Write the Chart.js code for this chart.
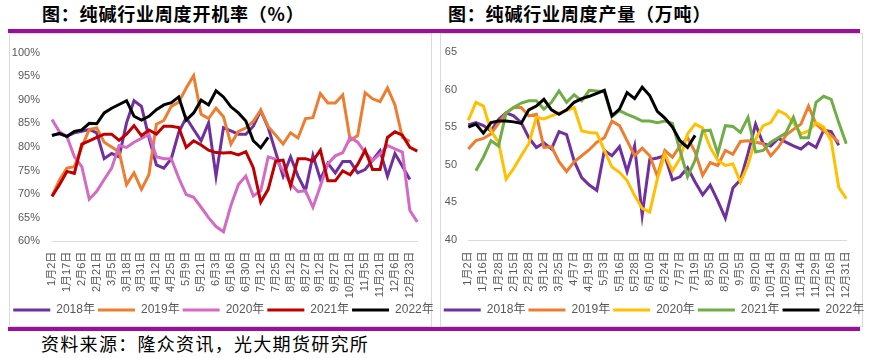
<!DOCTYPE html>
<html><head><meta charset="utf-8">
<script src="https://cdn.jsdelivr.net/npm/chart.js@4"></script>
<style>
html,body{margin:0;padding:0;background:#fff;}
body{width:870px;height:358px;position:relative;overflow:hidden;font-family:"Noto Sans CJK SC",sans-serif;}
.title{position:absolute;top:1px;font-size:18px;font-weight:700;color:#000;letter-spacing:0.8px;white-space:nowrap;line-height:24px;}
.bar{position:absolute;left:8px;width:852px;height:4px;background:#9b0f9b;}
.box{position:absolute;top:33px;height:294px;border:1px solid #d9d9d9;box-sizing:border-box;}
.src{position:absolute;left:41px;top:331px;font-size:18px;letter-spacing:1.3px;white-space:nowrap;line-height:24px;color:#000;}
.cv{position:absolute;top:34px;}
</style></head>
<body>
<div class="title" style="left:42px">图：纯碱行业周度开机率（%）</div>
<div class="title" style="left:448px">图：纯碱行业周度产量（万吨）</div>
<div class="bar" style="top:29px"></div>
<div class="box" style="left:9px;width:423px"></div>
<div class="box" style="left:440px;width:423px"></div>
<div class="bar" style="top:327px"></div>
<div class="src">资料来源：隆众资讯，光大期货研究所</div>
<div class="cv" style="left:6px"><canvas id="c1" width="435" height="292"></canvas></div>
<div class="cv" style="left:437px"><canvas id="c2" width="434" height="292"></canvas></div>
<script>
// ---- left chart: weekly operating rate (%) ----
const rateTickLabels = ['1月2日','1月17日','2月6日','2月21日','3月5日','3月18日','3月31日','4月12日','4月25日','5月9日','5月21日','6月3日','6月16日','6月30日','7月12日','7月25日','8月12日','8月27日','9月12日','9月27日','10月21日','11月5日','11月21日','12月6日','12月23日'];
const rateWeeks = 50;
const rate2018 = [82.5,82.8,82.3,83.0,83.3,83.7,83.0,77.5,78.6,77.9,85.1,89.8,88.6,82.0,76.2,75.5,77.5,83.1,86.2,83.7,81.3,85.1,73.8,84.1,83.4,82.7,82.7,84.4,87.7,84.1,78.9,73.8,77.9,73.8,70.7,78.2,73.1,76.5,74.5,76.9,76.9,74.5,75.2,77.2,79.2,73.8,78.6,75.9,73.1];
const rate2019 = [69.5,73.0,75.5,75.8,80.0,83.7,84.0,81.0,80.0,79.0,72.0,74.5,71.0,74.1,84.8,85.6,88.6,89.5,92.5,95.1,86.9,86.0,88.2,86.4,80.6,83.3,84.0,85.4,87.8,84.3,82.5,80.6,83.0,81.9,86.0,86.2,91.3,89.3,89.3,91.0,81.4,82.4,91.5,90.2,89.6,92.5,88.9,82.0,81.2];
const rate2020 = [85.8,83.2,82.2,77.9,75.8,68.9,70.6,73.1,75.5,80.3,79.9,81.0,81.8,82.7,77.9,77.5,77.5,73.4,69.9,69.3,67.2,65.0,63.1,62.0,67.6,72.0,73.8,69.6,70.7,77.9,77.4,75.0,72.2,70.5,70.7,67.2,71.7,76.4,78.1,78.8,82.0,81.0,78.8,77.1,78.5,80.3,79.6,78.9,66.5,64.1];
const rate2021 = [69.5,72.0,74.8,74.4,80.6,81.3,82.0,82.7,82.7,81.4,82.7,84.5,82.4,83.6,82.7,84.4,84.4,84.1,79.9,81.3,80.4,79.3,78.8,78.7,78.8,78.3,79.0,75.6,68.3,71.0,77.0,77.2,71.7,77.5,77.5,77.0,79.3,72.8,72.8,74.9,74.1,76.3,79.3,75.2,75.2,82.0,83.2,82.5,79.9,79.1];
const rate2022 = [82.4,82.9,82.2,83.3,83.6,85.0,84.9,87.2,88.2,89.0,89.8,86.5,85.7,86.5,87.9,88.9,89.4,90.6,85.7,87.2,89.9,88.9,91.9,90.6,88.5,87.2,85.5,81.3,79.8,82.0];

// ---- right chart: weekly output (10k t) ----
const outTickLabels = ['1月2日','1月16日','1月28日','2月15日','2月28日','3月12日','3月25日','4月7日','4月19日','5月3日','5月16日','5月28日','6月10日','6月24日','7月7日','7月19日','8月5日','8月20日','9月5日','9月20日','10月14日','10月29日','11月14日','11月29日','12月16日','12月31日'];
const outWeeks = 51;
const out2018 = [55.3,55.6,55.2,54.5,56.0,56.9,56.5,55.6,53.6,52.3,52.9,52.1,54.4,54.0,50.5,48.3,47.3,46.6,51.9,51.2,52.4,49.1,52.5,43.3,50.7,50.9,51.2,48.0,48.4,49.6,47.7,46.0,47.3,45.2,42.9,46.9,48.0,51.5,55.4,52.8,52.5,53.5,53.0,52.5,52.1,52.9,52.3,54.6,54.4,52.6];
const out2019 = [52.1,53.2,53.5,54.1,55.5,56.9,57.6,57.6,56.5,56.7,52.3,52.4,50.4,49.1,50.4,51.2,52.0,53.0,53.6,55.8,55.2,53.2,51.2,52.2,51.2,48.5,51.9,51.0,52.5,53.6,51.7,48.6,50.3,49.9,51.9,51.4,53.1,53.2,53.0,52.8,51.2,52.3,53.9,54.7,55.4,57.8,55.4,54.5,53.9,53.0];
const out2020 = [55.9,58.3,57.8,54.5,53.0,48.1,49.5,51.2,52.8,56.3,56.1,56.5,56.9,57.2,57.6,54.5,54.3,54.2,51.9,49.7,49.0,47.9,45.9,44.2,43.7,48.1,51.4,49.2,50.8,54.1,55.4,54.9,52.3,50.6,49.9,50.1,47.7,50.0,53.4,55.2,55.6,57.2,56.7,55.6,54.1,54.5,55.6,55.0,53.2,47.0,45.5];
const out2021 = [null,49.2,51.0,53.2,52.5,56.9,57.6,58.2,58.5,58.5,57.4,58.3,59.8,58.3,59.3,58.5,59.9,59.8,59.7,56.4,57.2,56.7,56.3,55.8,55.8,55.6,55.8,55.5,51.9,48.4,50.6,54.5,54.6,51.5,55.2,55.1,54.3,56.3,51.7,51.9,53.0,53.6,54.2,56.3,53.6,53.6,58.3,59.1,58.7,55.6,52.8];
const out2022 = [55.0,55.4,54.2,55.6,55.8,55.8,55.7,55.5,57.3,57.8,58.7,57.3,56.7,57.3,58.3,58.8,59.1,59.5,59.9,56.5,57.4,59.6,58.8,60.3,59.2,57.1,56.2,55.0,53.2,52.3,53.9];

const yearNames = ['2018年','2019年','2020年','2021年','2022年'];

// category axis: one category per week, a date label on every other week
function weekCategories(n, tickLabels) {
  const cats = [];
  for (let i = 0; i < n; i++) cats.push(i % 2 === 0 ? (tickLabels[i / 2] || '') : '');
  return cats;
}

Chart.defaults.font.family = '"Liberation Sans", "Noto Sans CJK SC", sans-serif';
Chart.defaults.color = '#595959';

function makeChart(id, cats, series, colors, yOpt, geo) {
  const datasets = series.map((d, i) => ({
    label: yearNames[i], data: d, borderColor: colors[i], backgroundColor: colors[i],
    borderWidth: 3, pointRadius: 0, tension: 0, fill: false, order: 5 - i
  }));
  return new Chart(document.getElementById(id), {
    type: 'line',
    data: { labels: cats, datasets },
    options: {
      responsive: false, animation: false, events: [],
      layout: { padding: { top: geo.top, left: 0, right: 0, bottom: 0 } },
      scales: {
        x: {
          type: 'category', offset: false,
          grid: { display: false, drawTicks: false },
          border: { display: true, color: '#d9d9d9', width: 1 },
          ticks: { autoSkip: false, maxRotation: 90, minRotation: 90, padding: geo.xPad, color: '#595959', font: { size: 11 } },
          afterFit: s => { s.height = geo.xH; }
        },
        y: {
          min: yOpt.min, max: yOpt.max,
          grid: { display: false, drawTicks: false },
          border: { display: false },
          ticks: { stepSize: 5, padding: geo.yPad, color: '#595959', font: { size: 11 }, callback: yOpt.fmt },
          afterFit: s => { s.width = geo.yW; }
        },
        r: {
          type: 'linear', position: 'right', display: true,
          grid: { display: false, drawTicks: false }, border: { display: false },
          ticks: { display: false },
          afterFit: s => { s.width = geo.rW; }
        }
      },
      plugins: {
        tooltip: { enabled: false },
        legend: {
          position: 'bottom',
          labels: {
            usePointStyle: true, pointStyle: 'line', pointStyleWidth: 37, padding: 3,
            color: '#595959', font: { size: 12 },
            sort: (a, b) => a.datasetIndex - b.datasetIndex
          }
        }
      }
    }
  });
}

makeChart('c1', weekCategories(rateWeeks, rateTickLabels),
  [rate2018, rate2019, rate2020, rate2021, rate2022],
  ['#7030a0', '#ed7d31', '#d36ac6', '#c00000', '#000000'],
  { min: 60, max: 100, fmt: v => v + '%' },
  { top: 14.3, xPad: 10.5, xH: 59.8, yPad: 12, yW: 46, rW: 21.5 });

makeChart('c2', weekCategories(outWeeks, outTickLabels),
  [out2018, out2019, out2020, out2021, out2022],
  ['#7030a0', '#ed7d31', '#ffc000', '#70ad47', '#000000'],
  { min: 40, max: 65, fmt: v => v },
  { top: 16.7, xPad: 11.5, xH: 61, yPad: 11.3, yW: 31.3, rW: 21.7 });
</script>
</body></html>
